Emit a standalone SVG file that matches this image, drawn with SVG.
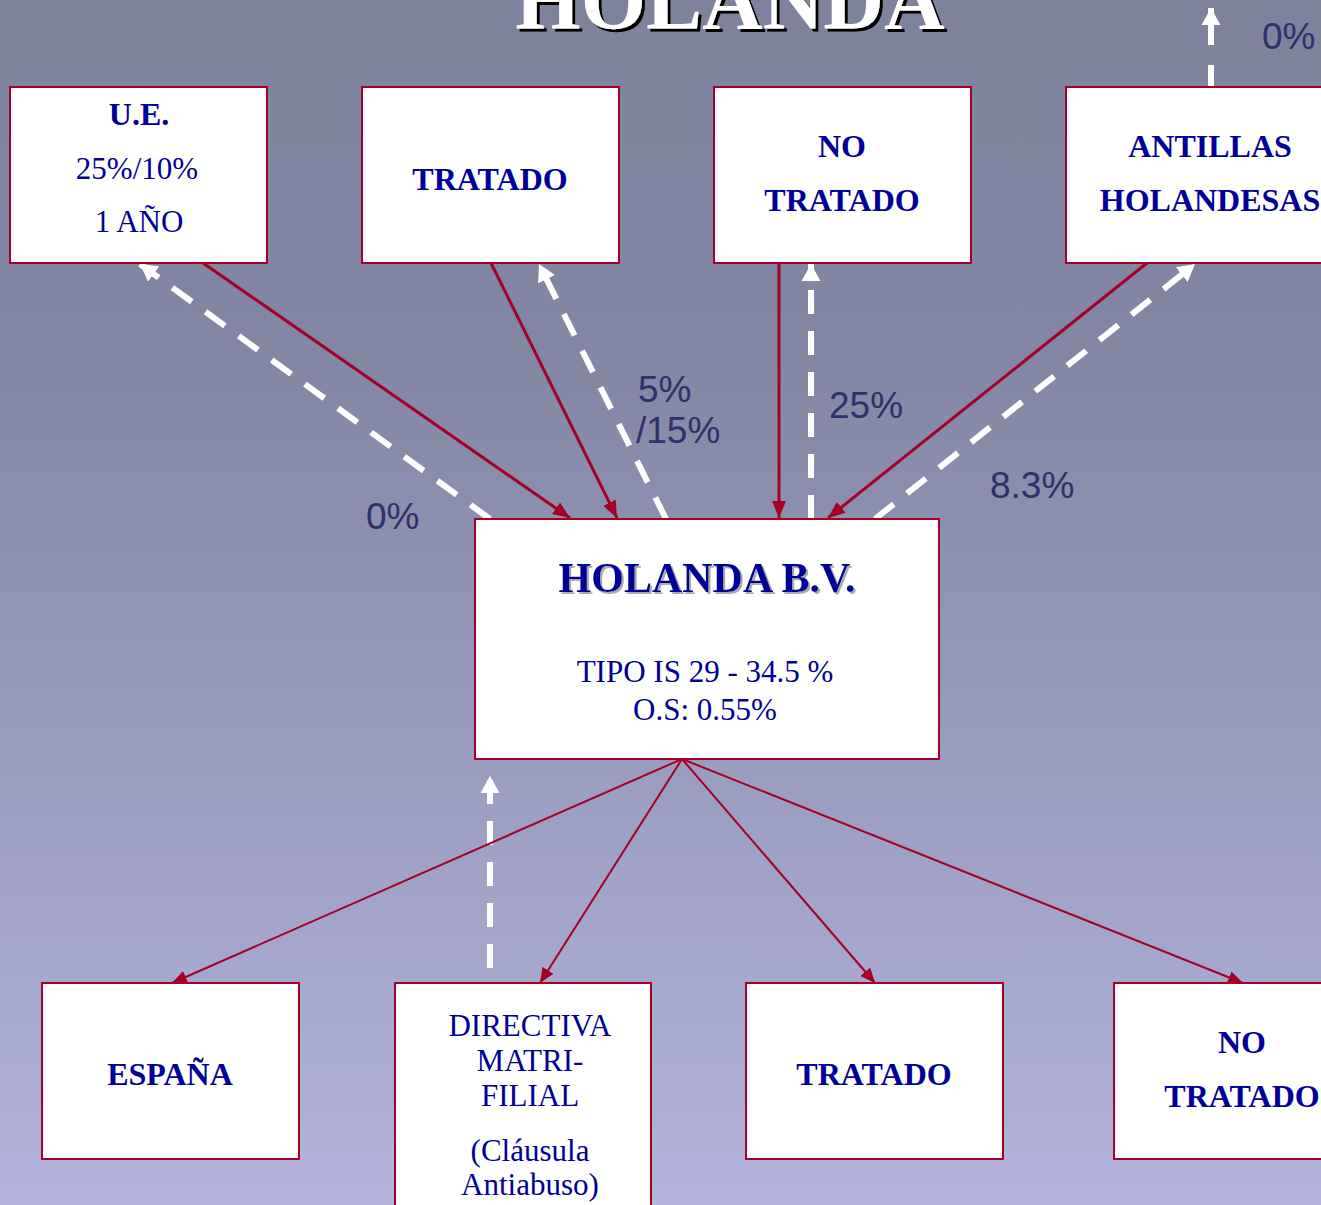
<svg xmlns="http://www.w3.org/2000/svg" width="1321" height="1205" viewBox="0 0 1321 1205">
<defs>
<linearGradient id="bg" x1="0" y1="0" x2="0" y2="1">
<stop offset="0" stop-color="#7e829d"/>
<stop offset="0.3" stop-color="#8387a3"/>
<stop offset="1" stop-color="#b4b4dc"/>
</linearGradient>
<marker id="ar" markerUnits="userSpaceOnUse" markerWidth="18" markerHeight="14" refX="17" refY="7" orient="auto">
<path d="M0,0 L17,7 L0,14 z" fill="#a50026"/>
</marker>
<marker id="ar2" markerUnits="userSpaceOnUse" markerWidth="16" markerHeight="14" refX="15" refY="7" orient="auto">
<path d="M0,0.5 L15,7 L0,13.5 z" fill="#a50026"/>
</marker>
<marker id="aw" markerUnits="userSpaceOnUse" markerWidth="18" markerHeight="20" refX="17" refY="10" orient="auto">
<path d="M0,0.5 L17,10 L0,19.5 z" fill="#ffffff"/>
</marker>
<filter id="sh" x="-10%" y="-10%" width="120%" height="130%">
<feDropShadow dx="2" dy="2" stdDeviation="0.6" flood-color="#aaaaaa"/>
</filter>
<filter id="tsh" x="-10%" y="-10%" width="120%" height="130%">
<feDropShadow dx="3" dy="3" stdDeviation="0.3" flood-color="#000000" flood-opacity="1"/>
</filter>
</defs>
<style>
.box{fill:#ffffff;stroke:#a50026;stroke-width:2}
.b{font-family:"Liberation Serif","Times New Roman",serif;font-weight:bold;font-size:32px;fill:#000099;text-anchor:middle}
.big{font-size:42px}
.r{font-family:"Liberation Serif","Times New Roman",serif;font-size:31px;fill:#000099;text-anchor:middle}
.lbl{font-family:"Liberation Sans",Arial,sans-serif;font-size:37px;fill:#2f3168}
.sol{stroke:#a50026;stroke-width:3;fill:none;marker-end:url(#ar)}
.thin{stroke:#a50026;stroke-width:2;fill:none;marker-end:url(#ar2)}
.dash{stroke:#ffffff;stroke-width:6;fill:none;stroke-dasharray:24 17;marker-end:url(#aw)}
</style>
<rect x="0" y="0" width="1321" height="1205" fill="url(#bg)"/>
<g id="title">
<text x="730" y="29" font-family="'Liberation Serif','Times New Roman',serif" font-weight="bold" font-size="84" text-anchor="middle" fill="#ffffff" filter="url(#tsh)">HOLANDA</text>
</g>
<g id="connectors">
<line class="sol" x1="203" y1="263" x2="570" y2="518"/>
<line class="dash" x1="490" y1="519" x2="140" y2="264"/>
<line class="sol" x1="491" y1="263" x2="617" y2="518"/>
<line class="dash" x1="666" y1="519" x2="539" y2="264"/>
<line class="sol" x1="779" y1="263" x2="779" y2="518"/>
<line class="dash" x1="811" y1="519" x2="811" y2="264"/>
<line class="sol" x1="1147" y1="263" x2="828" y2="518"/>
<line class="dash" x1="875" y1="519" x2="1195" y2="264"/>
<line class="dash" x1="1211" y1="87" x2="1211" y2="8" style="stroke-dasharray:22 20 40"/>
<line class="dash" x1="490" y1="968" x2="490" y2="776"/>
<line class="thin" x1="682" y1="759" x2="172" y2="983"/>
<line class="thin" x1="682" y1="759" x2="540" y2="983"/>
<line class="thin" x1="682" y1="759" x2="875" y2="983"/>
<line class="thin" x1="682" y1="759" x2="1243" y2="983"/>
</g>
<g id="labels">
<text class="lbl" x="366" y="529">0%</text>
<text class="lbl" x="638" y="402">5%</text>
<text class="lbl" x="636" y="443">/15%</text>
<text class="lbl" x="829" y="418">25%</text>
<text class="lbl" x="990" y="498">8.3%</text>
<text class="lbl" x="1262" y="49">0%</text>
</g>
<g id="ue">
<rect class="box" x="10" y="87" width="257" height="176"/>
<text class="b" x="139" y="125">U.E.</text>
<text class="r" x="137" y="179">25%/10%</text>
<text class="r" x="139" y="232">1 AÑO</text>
</g>
<g id="tratado-top">
<rect class="box" x="362" y="87" width="257" height="176"/>
<text class="b" x="490" y="190">TRATADO</text>
</g>
<g id="no-tratado-top">
<rect class="box" x="714" y="87" width="257" height="176"/>
<text class="b" x="842" y="157">NO</text>
<text class="b" x="842" y="211">TRATADO</text>
</g>
<g id="antillas">
<rect class="box" x="1066" y="87" width="264" height="176"/>
<text class="b" x="1210" y="157">ANTILLAS</text>
<text class="b" x="1210" y="211">HOLANDESAS</text>
</g>
<g id="holanda-bv">
<rect class="box" x="475" y="519" width="464" height="240"/>
<text class="b big" x="707" y="592" filter="url(#sh)">HOLANDA B.V.</text>
<text class="r" x="705" y="682">TIPO IS 29 - 34.5 %</text>
<text class="r" x="705" y="720">O.S: 0.55%</text>
</g>
<g id="espana">
<rect class="box" x="42" y="983" width="257" height="176"/>
<text class="b" x="170" y="1085">ESPAÑA</text>
</g>
<g id="directiva">
<rect class="box" x="395" y="983" width="256" height="240"/>
<text class="r" x="530" y="1036">DIRECTIVA</text>
<text class="r" x="530" y="1071">MATRI-</text>
<text class="r" x="530" y="1106">FILIAL</text>
<text class="r" x="530" y="1161">(Cláusula</text>
<text class="r" x="530" y="1195">Antiabuso)</text>
</g>
<g id="tratado-bottom">
<rect class="box" x="746" y="983" width="257" height="176"/>
<text class="b" x="874" y="1085">TRATADO</text>
</g>
<g id="no-tratado-bottom">
<rect class="box" x="1114" y="983" width="257" height="176"/>
<text class="b" x="1242" y="1053">NO</text>
<text class="b" x="1242" y="1107">TRATADO</text>
</g>
</svg>
